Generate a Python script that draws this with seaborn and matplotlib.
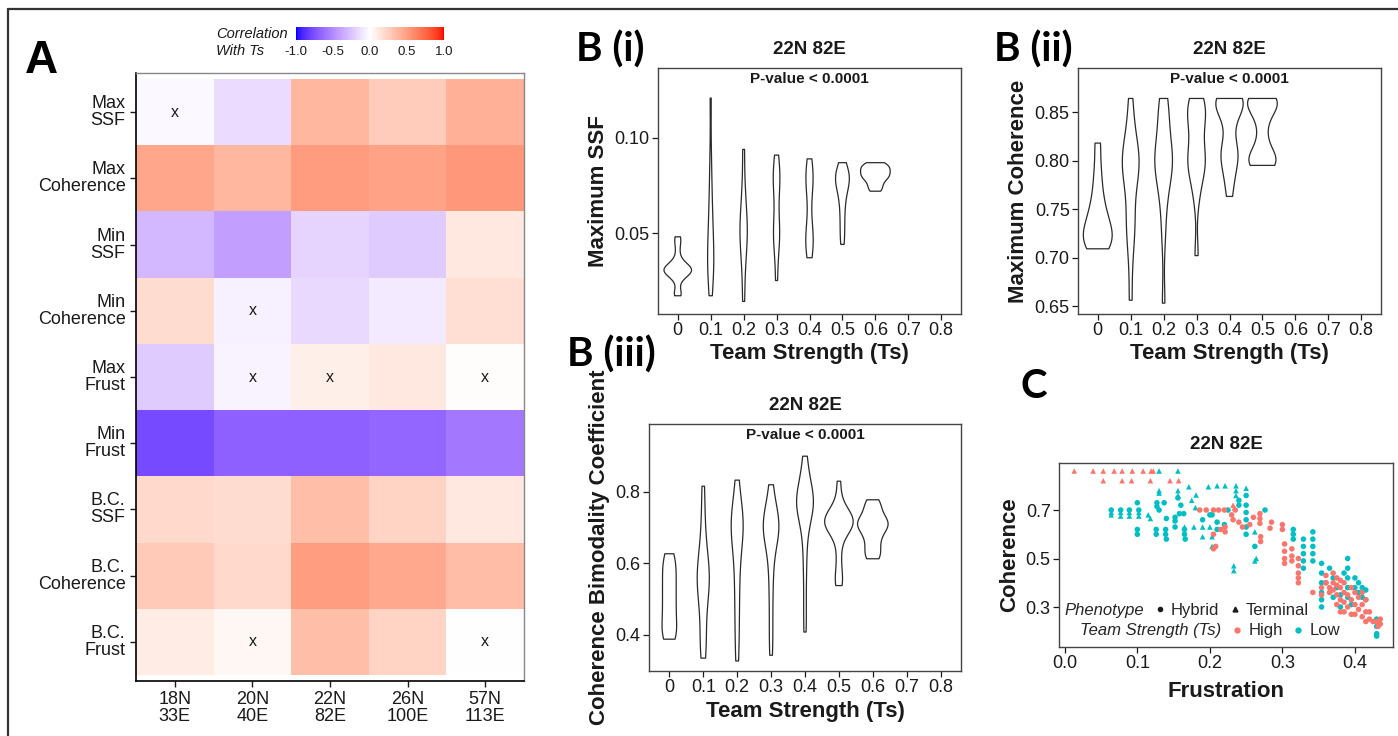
import numpy as np
import pandas as pd
import matplotlib
matplotlib.use('Agg')
import matplotlib.pyplot as plt
import seaborn as sns
from matplotlib.colors import ListedColormap
from matplotlib.lines import Line2D

# ---------------- panel A: correlation with Ts ----------------
networks = ['18N\n33E', '20N\n40E', '22N\n82E', '26N\n100E', '57N\n113E']
metrics = ['Max\nSSF', 'Max\nCoherence', 'Min\nSSF', 'Min\nCoherence', 'Max\nFrust',
           'Min\nFrust', 'B.C.\nSSF', 'B.C.\nCoherence', 'B.C.\nFrust']
max_ssf = [-0.03, -0.15, 0.37, 0.27, 0.41]
max_coh = [0.46, 0.37, 0.51, 0.48, 0.53]
min_ssf = [-0.30, -0.42, -0.18, -0.22, 0.12]
min_coh = [0.18, -0.06, -0.16, -0.09, 0.17]
max_frust = [-0.22, -0.05, 0.08, 0.12, 0.01]
min_frust = [-0.78, -0.68, -0.68, -0.66, -0.58]
bc_ssf = [0.20, 0.18, 0.34, 0.22, 0.12]
bc_coh = [0.28, 0.20, 0.50, 0.45, 0.35]
bc_frust = [0.10, 0.04, 0.34, 0.22, 0.00]
# cells marked "x" (row, column)
nonsig = [(0, 0), (3, 1), (4, 1), (4, 2), (4, 4), (8, 1), (8, 4)]

# ---------------- panel B: violins per team strength ----------------
ts_levels = ['0', '0.1', '0.2', '0.3', '0.4', '0.5', '0.6', '0.7', '0.8']
max_ssf_ts = {
    '0': [0.017, 0.018, 0.019, 0.025, 0.027, 0.028, 0.029, 0.029, 0.030, 0.030, 0.030, 0.031,
          0.031, 0.031, 0.032, 0.032, 0.033, 0.034, 0.036, 0.040, 0.044, 0.047, 0.048],
    '0.1': [0.017, 0.025, 0.030, 0.033, 0.036, 0.040, 0.045, 0.050, 0.058, 0.065, 0.075, 0.090, 0.121],
    '0.2': [0.014, 0.030, 0.040, 0.046, 0.050, 0.053, 0.058, 0.065, 0.075, 0.094],
    '0.3': [0.025, 0.040, 0.047, 0.050, 0.053, 0.062, 0.072, 0.078, 0.080, 0.083, 0.091],
    '0.4': [0.037, 0.043, 0.046, 0.049, 0.056, 0.068, 0.076, 0.079, 0.082, 0.089],
    '0.5': [0.044, 0.050, 0.056, 0.062, 0.067, 0.071, 0.074, 0.076, 0.078, 0.079, 0.080,
            0.082, 0.084, 0.087],
    '0.6': [0.072, 0.074, 0.076, 0.078, 0.079, 0.080, 0.081, 0.082, 0.083, 0.084, 0.085,
            0.086, 0.087],
}
max_coh_ts = {
    '0': [0.709, 0.712, 0.716, 0.720, 0.725, 0.730, 0.737, 0.745, 0.755, 0.770, 0.790, 0.818],
    '0.1': [0.656, 0.700, 0.725, 0.735, 0.745, 0.770, 0.785, 0.790, 0.795, 0.800, 0.805, 0.810,
            0.820, 0.840, 0.864],
    '0.2': [0.653, 0.720, 0.750, 0.770, 0.785, 0.790, 0.795, 0.800, 0.805, 0.810, 0.815, 0.835,
            0.850, 0.855, 0.864],
    '0.3': [0.702, 0.760, 0.780, 0.790, 0.795, 0.800, 0.805, 0.810, 0.825, 0.840, 0.845, 0.850,
            0.855, 0.860, 0.864],
    '0.4': [0.763, 0.780, 0.790, 0.800, 0.805, 0.810, 0.815, 0.830, 0.845, 0.852, 0.857, 0.860,
            0.862, 0.863, 0.864, 0.864],
    '0.5': [0.795, 0.796, 0.798, 0.800, 0.803, 0.808, 0.820, 0.835, 0.848, 0.854, 0.858, 0.861,
            0.863, 0.864, 0.864],
}
bc_coh_ts = {
    '0': [0.388, 0.395, 0.410, 0.430, 0.450, 0.470, 0.490, 0.510, 0.530, 0.550, 0.570, 0.590,
          0.610, 0.627],
    '0.1': [0.335, 0.360, 0.400, 0.440, 0.480, 0.510, 0.530, 0.545, 0.560, 0.575, 0.590, 0.610,
            0.640, 0.680, 0.740, 0.816],
    '0.2': [0.327, 0.400, 0.460, 0.520, 0.570, 0.620, 0.660, 0.690, 0.700, 0.710, 0.720, 0.740,
            0.770, 0.833],
    '0.3': [0.343, 0.400, 0.460, 0.520, 0.570, 0.610, 0.650, 0.675, 0.685, 0.695, 0.700, 0.705,
            0.710, 0.720, 0.730, 0.750, 0.780, 0.820],
    '0.4': [0.408, 0.480, 0.560, 0.620, 0.670, 0.710, 0.735, 0.750, 0.758, 0.765, 0.770, 0.775,
            0.780, 0.787, 0.795, 0.810, 0.840, 0.870, 0.900],
    '0.5': [0.538, 0.550, 0.580, 0.620, 0.660, 0.690, 0.695, 0.700, 0.705, 0.710, 0.715, 0.720,
            0.725, 0.730, 0.735, 0.740, 0.750, 0.780, 0.830],
    '0.6': [0.613, 0.620, 0.635, 0.650, 0.665, 0.680, 0.690, 0.700, 0.705, 0.710, 0.715, 0.720,
            0.730, 0.740, 0.755, 0.768, 0.778],
}

# ---------------- panel C: frustration vs coherence ----------------
hi_term_x = [0.013, 0.039, 0.053, 0.068, 0.079, 0.093, 0.108, 0.119, 0.122,
             0.053, 0.079, 0.092, 0.118, 0.145, 0.157, 0.232, 0.234]
hi_term_y = [0.861, 0.861, 0.861, 0.861, 0.861, 0.861, 0.861, 0.861, 0.861,
             0.821, 0.821, 0.821, 0.821, 0.821, 0.821, 0.720, 0.710]
lo_term_x = [0.130, 0.156, 0.130, 0.130, 0.156, 0.156, 0.171, 0.198, 0.210, 0.221, 0.181,
             0.236, 0.236, 0.236, 0.250, 0.064, 0.064, 0.077, 0.077, 0.089, 0.089, 0.102,
             0.102, 0.115, 0.118, 0.165, 0.178, 0.190, 0.200, 0.190, 0.203, 0.203, 0.233,
             0.233, 0.262, 0.262, 0.264, 0.180, 0.175]
lo_term_y = [0.861, 0.861, 0.780, 0.770, 0.780, 0.760, 0.796, 0.796, 0.800, 0.800, 0.762,
             0.800, 0.780, 0.760, 0.790, 0.690, 0.680, 0.690, 0.675, 0.690, 0.675, 0.690,
             0.675, 0.680, 0.665, 0.630, 0.630, 0.630, 0.630, 0.590, 0.590, 0.550, 0.450,
             0.470, 0.610, 0.490, 0.500, 0.710, 0.740]
lo_hyb_x = [0.064, 0.077, 0.089, 0.102, 0.100, 0.137, 0.127, 0.127, 0.130, 0.100, 0.100,
            0.126, 0.126, 0.139, 0.139, 0.152, 0.165, 0.165, 0.140, 0.166, 0.140, 0.152,
            0.152, 0.158, 0.164, 0.160, 0.156, 0.190, 0.203, 0.210, 0.220, 0.225, 0.240,
            0.240, 0.250, 0.250, 0.250, 0.250, 0.250, 0.250, 0.276, 0.262, 0.315, 0.315,
            0.315, 0.329, 0.329, 0.329, 0.329, 0.329, 0.342, 0.342, 0.342, 0.342, 0.342,
            0.354, 0.354, 0.354, 0.354, 0.354, 0.354, 0.365, 0.370, 0.375, 0.380, 0.385,
            0.390, 0.390, 0.390, 0.390, 0.390, 0.395, 0.400, 0.400, 0.405, 0.405, 0.410,
            0.410, 0.415, 0.415, 0.360, 0.370, 0.380, 0.430, 0.430, 0.430, 0.430, 0.200,
            0.210]
lo_hyb_y = [0.700, 0.700, 0.700, 0.700, 0.730, 0.730, 0.730, 0.715, 0.700, 0.620, 0.600,
            0.620, 0.600, 0.620, 0.600, 0.630, 0.620, 0.600, 0.580, 0.580, 0.665, 0.670,
            0.655, 0.685, 0.685, 0.720, 0.750, 0.660, 0.680, 0.650, 0.640, 0.700, 0.740,
            0.720, 0.760, 0.720, 0.690, 0.660, 0.630, 0.600, 0.700, 0.550, 0.620, 0.600,
            0.580, 0.580, 0.550, 0.520, 0.490, 0.460, 0.610, 0.580, 0.550, 0.520, 0.490,
            0.480, 0.440, 0.400, 0.360, 0.330, 0.300, 0.460, 0.420, 0.380, 0.350, 0.440,
            0.500, 0.460, 0.420, 0.380, 0.340, 0.310, 0.420, 0.380, 0.400, 0.360, 0.380,
            0.340, 0.370, 0.330, 0.400, 0.340, 0.300, 0.250, 0.220, 0.190, 0.180, 0.680,
            0.620]
hi_hyb_x = [0.186, 0.195, 0.205, 0.212, 0.220, 0.221, 0.221, 0.208, 0.205, 0.205, 0.215,
            0.230, 0.232, 0.235, 0.240, 0.245, 0.255, 0.260, 0.269, 0.269, 0.269, 0.270,
            0.270, 0.285, 0.283, 0.300, 0.300, 0.303, 0.303, 0.303, 0.303, 0.313, 0.313,
            0.313, 0.322, 0.322, 0.322, 0.322, 0.322, 0.342, 0.354, 0.354, 0.360, 0.360,
            0.365, 0.365, 0.370, 0.370, 0.370, 0.375, 0.375, 0.375, 0.375, 0.380, 0.380,
            0.380, 0.380, 0.385, 0.385, 0.385, 0.385, 0.390, 0.390, 0.395, 0.395, 0.395,
            0.400, 0.400, 0.400, 0.405, 0.405, 0.410, 0.410, 0.410, 0.415, 0.415, 0.415,
            0.420, 0.420, 0.425, 0.430, 0.432, 0.435, 0.435]
hi_hyb_y = [0.700, 0.700, 0.700, 0.700, 0.700, 0.630, 0.610, 0.550, 0.540, 0.600, 0.620,
            0.680, 0.660, 0.700, 0.650, 0.630, 0.640, 0.670, 0.685, 0.665, 0.645, 0.590,
            0.570, 0.650, 0.625, 0.640, 0.620, 0.560, 0.530, 0.500, 0.480, 0.540, 0.510,
            0.490, 0.500, 0.470, 0.440, 0.420, 0.400, 0.360, 0.380, 0.350, 0.430, 0.400,
            0.380, 0.360, 0.440, 0.400, 0.370, 0.420, 0.390, 0.350, 0.310, 0.410, 0.380,
            0.330, 0.280, 0.400, 0.360, 0.320, 0.280, 0.350, 0.300, 0.380, 0.330, 0.270,
            0.360, 0.310, 0.270, 0.340, 0.290, 0.360, 0.310, 0.260, 0.330, 0.280, 0.240,
            0.280, 0.250, 0.240, 0.240, 0.220, 0.250, 0.230]

sns.set_theme(style='white')
plt.rcParams['font.family'] = ['Liberation Sans', 'DejaVu Sans']
DARK = '#1a1a1a'

W, H = 1398, 736
fig = plt.figure(figsize=(W / 100, H / 100), dpi=100)


def box(x0, y0, x1, y1):
    # pixel box (top-left origin) -> figure rect
    return [x0 / W, 1 - y1 / H, (x1 - x0) / W, (y1 - y0) / H]


# outer frame (left + top only, as in the source figure)
fig.add_artist(Line2D([8 / W, 8 / W], [0, 1 - 9 / H], color='#333333', lw=1.6))
fig.add_artist(Line2D([8 / W, 1], [1 - 9 / H, 1 - 9 / H], color='#333333', lw=1.6))

# ---- colormap: blue-white-red interpolated in Lab like ggplot gradient2 ----
def lab_to_rgb(lab):
    L, a, b = lab[:, 0], lab[:, 1], lab[:, 2]
    fy = (L + 16) / 116
    fx = fy + a / 500
    fz = fy - b / 200
    d = 6 / 29
    finv = lambda t: np.where(t > d, t ** 3, 3 * d ** 2 * (t - 4 / 29))
    X, Y, Z = 0.95047 * finv(fx), finv(fy), 1.08883 * finv(fz)
    r = 3.2406 * X - 1.5372 * Y - 0.4986 * Z
    g = -0.9689 * X + 1.8758 * Y + 0.0415 * Z
    bl = 0.0557 * X - 0.2040 * Y + 1.0570 * Z
    rgb = np.clip(np.stack([r, g, bl], -1), 0, None)
    rgb = np.where(rgb <= 0.0031308, 12.92 * rgb, 1.055 * rgb ** (1 / 2.4) - 0.055)
    return np.clip(rgb, 0, 1)


t = np.linspace(-1, 1, 256)[:, None]
lab_blue = np.array([32.30, 79.19, -107.86])
lab_white = np.array([100.0, 0.0, 0.0])
lab_red = np.array([53.24, 80.09, 67.20])
lab = np.where(t < 0, lab_white + (-t) * (lab_blue - lab_white), lab_white + t * (lab_red - lab_white))
cmap = ListedColormap(lab_to_rgb(lab))

# ---------------- panel A ----------------
heat = pd.DataFrame([max_ssf, max_coh, min_ssf, min_coh, max_frust, min_frust,
                     bc_ssf, bc_coh, bc_frust], index=metrics, columns=networks)
marks = np.full(heat.shape, '', dtype=object)
for r, c in nonsig:
    marks[r, c] = 'x'

axA = fig.add_axes(box(136, 73, 524, 681))
cax = fig.add_axes(box(296, 27, 444, 40))
sns.heatmap(heat, ax=axA, cmap=cmap, vmin=-1, vmax=1, annot=marks, fmt='',
            annot_kws={'size': 11.5, 'color': DARK}, cbar_ax=cax,
            cbar_kws={'orientation': 'horizontal', 'ticks': [-1, -0.5, 0, 0.5, 1]})
axA.set_ylim(9.09, -0.09)
axA.set_xlabel('')
axA.set_ylabel('')
for side, sp in axA.spines.items():
    sp.set_visible(True)
    sp.set_color('black' if side in ('left', 'bottom') else '#888888')
    sp.set_linewidth(1.2 if side in ('left', 'bottom') else 1.0)
axA.tick_params(axis='both', length=4, width=1, color=DARK, labelsize=13, labelcolor=DARK,
                left=True, bottom=True)
plt.setp(axA.get_yticklabels(), rotation=0, ha='right', linespacing=1.0)
plt.setp(axA.get_xticklabels(), rotation=0, ha='center', linespacing=1.0)
cax.set_xticklabels(['-1.0', '-0.5', '0.0', '0.5', '1.0'])
cax.tick_params(length=0, labelsize=9.5, labelcolor=DARK, pad=4)
for sp in cax.spines.values():
    sp.set_visible(False)
fig.text(216 / W, 1 - 34 / H, 'Correlation', style='italic', fontsize=10.5,
         va='center', ha='left', color=DARK)
fig.text(216 / W, 1 - 51 / H, 'With Ts', style='italic', fontsize=10.5,
         va='center', ha='left', color=DARK)


# ---------------- panel B ----------------
def violin_panel(rect, samples, ylim, yticks, yticklabels, ylabel):
    ax = fig.add_axes(rect)
    df = pd.DataFrame([(k, v) for k, vals in samples.items() for v in vals], columns=['ts', 'val'])
    sns.violinplot(data=df, x='ts', y='val', order=ts_levels, ax=ax, fill=False,
                   color='#2a2a2a', linewidth=0.9, inner=None, cut=0,
                   density_norm='area', width=0.9, bw_adjust=0.7)
    ax.set_xlim(-0.6, 8.6)
    ax.set_ylim(*ylim)
    ax.set_yticks(yticks)
    ax.set_yticklabels(yticklabels)
    ax.set_xticks(range(len(ts_levels)))
    ax.set_xticklabels(ts_levels)
    ax.set_xlabel('Team Strength (Ts)', fontsize=16, fontweight='bold', color=DARK, labelpad=3)
    ax.set_ylabel(ylabel, fontsize=16, fontweight='bold', color=DARK, labelpad=4)
    ax.set_title('22N 82E', fontsize=13.5, fontweight='bold', color=DARK, pad=10)
    ax.text(0.5, 0.955, 'P-value < 0.0001', transform=ax.transAxes, ha='center', va='center',
            fontsize=11, fontweight='bold', color=DARK)
    for sp in ax.spines.values():
        sp.set_visible(True)
        sp.set_color('#444444')
        sp.set_linewidth(1.0)
    ax.tick_params(axis='both', length=4, width=0.9, color=DARK, labelsize=13,
                   labelcolor=DARK, left=True, bottom=True, pad=2)
    return ax


violin_panel(box(658, 68, 961, 314), max_ssf_ts, (0.0074, 0.1368), [0.05, 0.10],
             ['0.05', '0.10'], 'Maximum SSF')
violin_panel(box(1078, 68, 1381, 314), max_coh_ts, (0.6418, 0.8954),
             [0.65, 0.70, 0.75, 0.80, 0.85], ['0.65', '0.70', '0.75', '0.80', '0.85'],
             'Maximum Coherence')
violin_panel(box(649, 424, 961, 671), bc_coh_ts, (0.299, 0.990), [0.4, 0.6, 0.8],
             ['0.4', '0.6', '0.8'], 'Coherence Bimodality Coefficient')

# ---------------- panel C ----------------
scat = pd.concat([
    pd.DataFrame({'frust': lo_hyb_x, 'coh': lo_hyb_y, 'ts': 'Low', 'pheno': 'Hybrid'}),
    pd.DataFrame({'frust': lo_term_x, 'coh': lo_term_y, 'ts': 'Low', 'pheno': 'Terminal'}),
    pd.DataFrame({'frust': hi_hyb_x, 'coh': hi_hyb_y, 'ts': 'High', 'pheno': 'Hybrid'}),
    pd.DataFrame({'frust': hi_term_x, 'coh': hi_term_y, 'ts': 'High', 'pheno': 'Terminal'}),
], ignore_index=True)
pal = {'High': '#F8766D', 'Low': '#00BFC4'}

axC = fig.add_axes(box(1059, 463, 1393, 647))
sns.scatterplot(data=scat, x='frust', y='coh', hue='ts', style='pheno', palette=pal,
                markers={'Hybrid': 'o', 'Terminal': '^'}, s=16, linewidth=0, legend=False, ax=axC)
axC.set_xlim(-0.008, 0.4525)
axC.set_ylim(0.135, 0.894)
axC.set_xticks([0.0, 0.1, 0.2, 0.3, 0.4])
axC.set_xticklabels(['0.0', '0.1', '0.2', '0.3', '0.4'])
axC.set_yticks([0.3, 0.5, 0.7])
axC.set_yticklabels(['0.3', '0.5', '0.7'])
axC.set_xlabel('Frustration', fontsize=16, fontweight='bold', color=DARK, labelpad=6)
axC.set_ylabel('Coherence', fontsize=16, fontweight='bold', color=DARK, labelpad=4)
axC.set_title('22N 82E', fontsize=13.5, fontweight='bold', color=DARK, pad=10)
for sp in axC.spines.values():
    sp.set_visible(True)
    sp.set_color('#444444')
    sp.set_linewidth(1.0)
axC.tick_params(axis='both', length=4, width=0.9, color=DARK, labelsize=13,
                labelcolor=DARK, left=True, bottom=True, pad=2)

blank = Line2D([], [], ls='', marker='')
leg_kw = dict(ncol=3, frameon=False, fontsize=12, handlelength=0.5, handletextpad=0.4,
              columnspacing=0.7, borderpad=0, borderaxespad=0, loc='center')
leg1 = axC.legend([blank, Line2D([], [], ls='', marker='o', color=DARK, ms=3),
                   Line2D([], [], ls='', marker='^', color=DARK, ms=3.5)],
                  ['Phenotype', 'Hybrid', 'Terminal'], bbox_to_anchor=(0.36, 0.20), **leg_kw)
leg1.get_texts()[0].set_style('italic')
axC.add_artist(leg1)
leg2 = axC.legend([blank, Line2D([], [], ls='', marker='o', color=pal['High'], ms=3.5),
                   Line2D([], [], ls='', marker='o', color=pal['Low'], ms=3.5)],
                  ['Team Strength (Ts)', 'High', 'Low'], bbox_to_anchor=(0.43, 0.087), **leg_kw)
leg2.get_texts()[0].set_style('italic')

# ---------------- panel letters ----------------
fig.text(25 / W, 1 - 73 / H, 'A', fontsize=33, fontweight='bold', color='black')
letter = dict(fontsize=29, fontweight='bold', color='black', family=['Lato', 'DejaVu Sans'])
fig.text(576 / W, 1 - 62 / H, 'B (i)', **letter)
fig.text(994 / W, 1 - 62 / H, 'B (ii)', **letter)
fig.text(567 / W, 1 - 367 / H, 'B (iii)', **letter)
fig.text(1021 / W, 1 - 398 / H, 'C', **letter)

fig.savefig('out.png', dpi=100, facecolor='white')
